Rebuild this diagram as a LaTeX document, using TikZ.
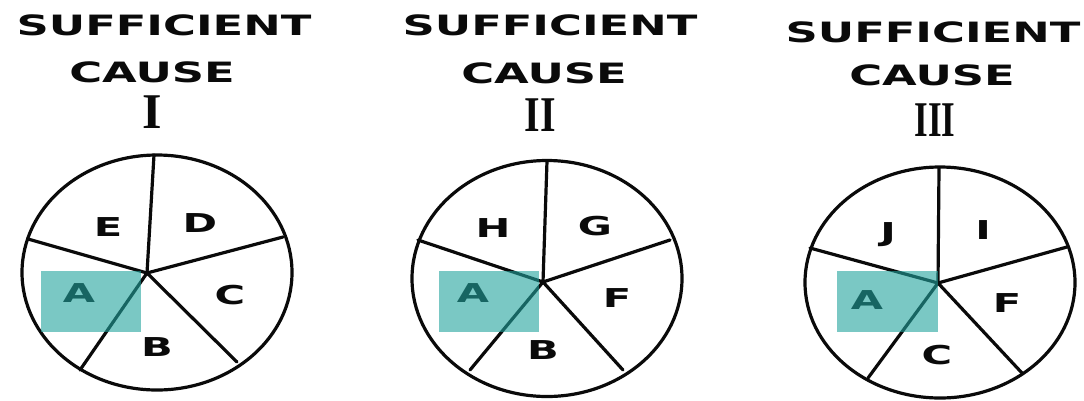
\documentclass[tikz,border=0pt]{standalone}
\usepackage{fontspec}
\usepackage{xcolor}
\usepackage{tikz}
\newfontfamily\capsfont[FakeStretch=1.6]{DejaVu Sans}
\newfontfamily\romanfont{Liberation Serif}
\definecolor{causeteal}{RGB}{33,163,157}
\definecolor{inkdark}{RGB}{10,10,10}
\tikzset{
  headline/.style={inner sep=0pt,text=inkdark,font=\capsfont\bfseries\fontsize{28}{28}\selectfont},
  numeral/.style={inner sep=0pt,text=inkdark,font=\romanfont\bfseries\fontsize{50}{50}\selectfont},
  slice/.style={inner sep=0pt,text=inkdark,font=\capsfont\bfseries\fontsize{26}{26}\selectfont},
  pieline/.style={line width=3.2pt,draw=inkdark,line cap=round},
  marked/.style={fill=causeteal,fill opacity=0.6,draw=none},
}

\begin{document}
\begin{tikzpicture}[x=1pt,y=-1pt]
  \useasboundingbox (0,0) rectangle (1084,400);

  \node[headline] (suffI) at (164,25) {SUFFICIENT};
  \node[headline] (causeI) at (152,72) {CAUSE};
  \node[numeral] (numI) at (152,112) {I};
  \node[headline] (suffII) at (550,25) {SUFFICIENT};
  \node[headline] (causeII) at (544,73) {CAUSE};
  \node[numeral] (numII) at (540,115) {\scalebox{0.8}[1]{II}};
  \node[headline] (suffIII) at (933,32) {SUFFICIENT};
  \node[headline] (causeIII) at (932,75) {CAUSE};
  \node[numeral] (numIII) at (935,120) {\scalebox{0.7}[1]{III}};

  \coordinate (hubI) at (147,273);
  \draw[pieline] (157,272.5) ellipse [x radius=135pt,y radius=117.5pt];
  \foreach \p in {(154,155),(283,237),(237,362),(80,370),(28,239)}
    \draw[pieline] (hubI) -- \p;
  \node[slice] (eI) at (108,227) {E};
  \node[slice] (dI) at (200,223) {D};
  \node[slice] (cI) at (230,295) {C};
  \node[slice] (bI) at (157,347) {B};
  \node[slice] (aI) at (79,293) {A};
  \fill[marked] (41,271) rectangle (141,332);

  \coordinate (hubII) at (543,282);
  \draw[pieline] (547,278.5) ellipse [x radius=135pt,y radius=118pt];
  \foreach \p in {(547,161),(670,240),(623,370),(470,370),(418,240)}
    \draw[pieline] (hubII) -- \p;
  \node[slice] (hII) at (493,228) {H};
  \node[slice] (gII) at (595,226) {G};
  \node[slice] (fII) at (617,298) {F};
  \node[slice] (bII) at (543,350) {B};
  \node[slice] (aII) at (473,293) {A};
  \fill[marked] (439,271) rectangle (539,332);

  \coordinate (hubIII) at (938,283);
  \draw[pieline] (940,282.5) ellipse [x radius=135pt,y radius=115.5pt];
  \foreach \p in {(939,168),(1067,247),(1022,373),(868,378),(810,248)}
    \draw[pieline] (hubIII) -- \p;
  \node[slice] (jIII) at (888,235) {J};
  \node[slice] (iIII) at (983,230) {I};
  \node[slice] (fIII) at (1007,303) {F};
  \node[slice] (cIII) at (937,355) {C};
  \node[slice] (aIII) at (867,300) {A};
  \fill[marked] (837,271) rectangle (938,332);
\end{tikzpicture}
\end{document}
